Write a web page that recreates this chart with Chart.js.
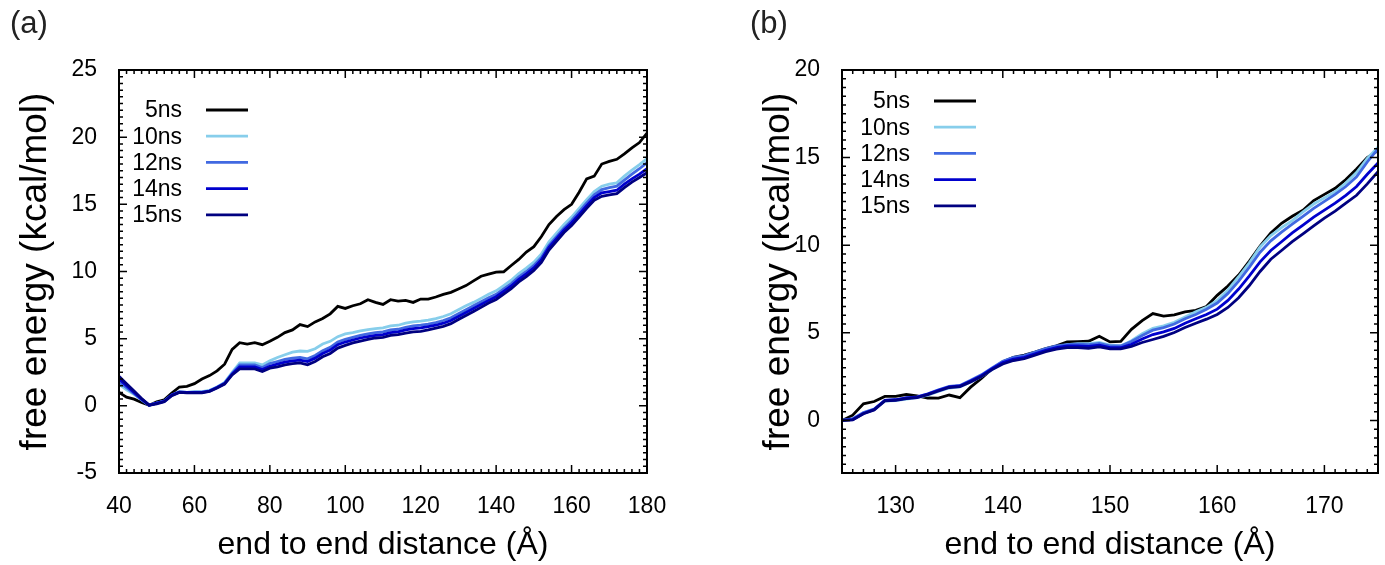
<!DOCTYPE html>
<html>
<head>
<meta charset="utf-8">
<script src="https://cdn.jsdelivr.net/npm/chart.js@4.4.1/dist/chart.umd.min.js"></script>
<style>
  body { margin: 0; background: #fff; width: 1385px; height: 565px; overflow: hidden; position: relative; font-family: "Liberation Sans", Arial, sans-serif; }
  .painel { position: absolute; top: 0; height: 565px; }
  .letra { position: absolute; top: 5px; font-size: 31px; color: #222; }
</style>
</head>
<body>
<div class="painel" style="left:0;width:692px"><canvas id="graficoA"></canvas></div>
<div class="painel" style="left:692px;width:693px"><canvas id="graficoB"></canvas></div>
<div class="letra" style="left:10px">(a)</div>
<div class="letra" style="left:750px">(b)</div>
<script>
// series names and colours
const legendas = ['5ns', '10ns', '12ns', '14ns', '15ns']
const cores = ['#000000', '#87ceeb', '#4169e1', '#0000cd', '#000080']

// panel (a)
const xA = [40, 42, 44, 46, 48, 50, 52, 54, 56, 58, 60, 62, 64, 66, 68, 70, 72, 74, 76, 78,
    80, 82, 84, 86, 88, 90, 92, 94, 96, 98, 100, 102, 104, 106, 108, 110, 112, 114, 116, 118,
    120, 122, 124, 126, 128, 130, 132, 134, 136, 138, 140, 142, 144, 146, 148, 150, 152, 154, 156, 158,
    160, 162, 164, 166, 168, 170, 172, 174, 176, 178, 180]
const a5ns = [1.0, 0.65, 0.5, 0.25, 0.05, 0.3, 0.45, 0.95, 1.4, 1.45,
    1.65, 2.0, 2.25, 2.6, 3.1, 4.2, 4.7, 4.6, 4.7, 4.55,
    4.8, 5.1, 5.45, 5.65, 6.05, 5.9, 6.25, 6.5, 6.85, 7.4,
    7.25, 7.45, 7.6, 7.9, 7.7, 7.55, 7.9, 7.8, 7.85, 7.7,
    7.95, 7.95, 8.1, 8.3, 8.45, 8.7, 8.95, 9.3, 9.65, 9.8,
    9.95, 9.98, 10.45, 10.9, 11.45, 11.85, 12.6, 13.5, 14.1, 14.6,
    15.0, 15.9, 16.9, 17.1, 18.0, 18.2, 18.35, 18.75, 19.2, 19.6,
    20.3]
const a10ns = [1.6, 1.2, 0.85, 0.45, 0.05, 0.2, 0.35, 0.8, 1.05, 1.0,
    1.05, 1.05, 1.15, 1.4, 1.75, 2.5, 3.2, 3.2, 3.2, 3.05,
    3.35, 3.6, 3.8, 4.0, 4.08, 4.05, 4.25, 4.6, 4.8, 5.15,
    5.35, 5.45, 5.58, 5.68, 5.74, 5.8, 5.95, 6.0, 6.15, 6.25,
    6.3, 6.38, 6.5, 6.65, 6.85, 7.15, 7.45, 7.7, 8.0, 8.3,
    8.56, 8.95, 9.35, 9.85, 10.25, 10.7, 11.3, 12.2, 12.85, 13.5,
    14.05, 14.7, 15.35, 15.95, 16.35, 16.5, 16.6, 17.1, 17.55, 17.95,
    18.4]
const a12ns = [1.8, 1.35, 0.9, 0.45, 0.05, 0.2, 0.35, 0.8, 1.03, 1.0,
    1.02, 1.02, 1.12, 1.38, 1.7, 2.42, 3.05, 3.05, 3.05, 2.85,
    3.15, 3.3, 3.45, 3.55, 3.6, 3.5, 3.75, 4.1, 4.35, 4.75,
    4.95, 5.1, 5.25, 5.35, 5.45, 5.5, 5.65, 5.7, 5.85, 5.95,
    6.0, 6.08, 6.2, 6.35, 6.55, 6.85, 7.15, 7.45, 7.75, 8.05,
    8.3, 8.7, 9.1, 9.6, 10.0, 10.45, 11.05, 11.95, 12.6, 13.25,
    13.8, 14.45, 15.1, 15.7, 16.1, 16.25, 16.35, 16.8, 17.25, 17.65,
    18.1]
const a14ns = [2.0, 1.5, 1.0, 0.5, 0.05, 0.2, 0.33, 0.8, 1.02, 1.0,
    1.0, 1.0, 1.1, 1.36, 1.66, 2.36, 2.9, 2.9, 2.9, 2.7,
    2.95, 3.1, 3.25, 3.35, 3.4, 3.3, 3.55, 3.9, 4.15, 4.55,
    4.75, 4.9, 5.05, 5.15, 5.25, 5.3, 5.45, 5.5, 5.65, 5.75,
    5.8, 5.9, 6.0, 6.15, 6.35, 6.65, 6.95, 7.25, 7.55, 7.85,
    8.12, 8.52, 8.92, 9.42, 9.82, 10.27, 10.88, 11.8, 12.45, 13.1,
    13.63, 14.25, 14.9, 15.5, 15.85, 15.95, 16.05, 16.5, 16.9, 17.25,
    17.65]
const a15ns = [2.2, 1.65, 1.1, 0.55, 0.05, 0.15, 0.3, 0.75, 1.0, 0.97,
    0.97, 0.97, 1.07, 1.32, 1.62, 2.3, 2.75, 2.75, 2.75, 2.55,
    2.8, 2.9, 3.05, 3.15, 3.2, 3.05, 3.3, 3.65, 3.9, 4.3,
    4.5, 4.68, 4.82, 4.95, 5.05, 5.1, 5.25, 5.3, 5.42, 5.5,
    5.55, 5.65, 5.78, 5.92, 6.12, 6.42, 6.72, 7.02, 7.33, 7.65,
    7.92, 8.32, 8.72, 9.22, 9.62, 10.07, 10.68, 11.6, 12.25, 12.9,
    13.42, 14.05, 14.7, 15.3, 15.6, 15.7, 15.8, 16.25, 16.65, 17.0,
    17.35]
const xTicksA = [40, 60, 80, 100, 120, 140, 160, 180]
const yTicksA = [-5, 0, 5, 10, 15, 20, 25]

// panel (b)
const xB = [125, 126, 127, 128, 129, 130, 131, 132, 133, 134, 135, 136, 137, 138, 139, 140, 141, 142, 143, 144,
    145, 146, 147, 148, 149, 150, 151, 152, 153, 154, 155, 156, 157, 158, 159, 160, 161, 162, 163, 164,
    165, 166, 167, 168, 169, 170, 171, 172, 173, 174, 175]
const b5ns = [0.0, 0.3, 0.95, 1.08, 1.37, 1.37, 1.48, 1.4, 1.28, 1.27,
    1.45, 1.3, 1.9, 2.4, 2.95, 3.35, 3.6, 3.73, 3.9, 4.1,
    4.26, 4.48, 4.5, 4.52, 4.8, 4.48, 4.51, 5.2, 5.7, 6.1,
    5.95, 6.03, 6.2, 6.28, 6.5, 7.14, 7.67, 8.3, 9.1, 9.95,
    10.7, 11.25, 11.65, 12.0, 12.55, 12.9, 13.25, 13.75, 14.35, 15.0,
    15.4]
const b10ns = [0.0, 0.08, 0.42, 0.65, 1.1, 1.13, 1.22, 1.3, 1.45, 1.65,
    1.85, 1.92, 2.2, 2.5, 2.9, 3.3, 3.53, 3.65, 3.85, 4.03,
    4.2, 4.32, 4.38, 4.38, 4.45, 4.3, 4.25, 4.55, 4.95, 5.25,
    5.4, 5.6, 5.9, 6.2, 6.45, 6.85, 7.45, 8.2, 9.0, 9.9,
    10.55, 11.0, 11.4, 11.9, 12.35, 12.7, 13.05, 13.55, 14.15, 14.95,
    15.6]
const b12ns = [0.0, 0.1, 0.45, 0.65, 1.15, 1.18, 1.28, 1.35, 1.52, 1.75,
    1.95, 2.0, 2.3, 2.6, 3.0, 3.38, 3.6, 3.7, 3.9, 4.1,
    4.25, 4.33, 4.35, 4.33, 4.4, 4.25, 4.25, 4.5, 4.85, 5.15,
    5.3, 5.5, 5.8, 6.05, 6.35, 6.7, 7.25, 7.95, 8.75, 9.6,
    10.25, 10.75, 11.2, 11.65, 12.1, 12.5, 12.9, 13.35, 13.9, 14.75,
    15.5]
const b14ns = [0.0, 0.05, 0.4, 0.62, 1.15, 1.18, 1.28, 1.33, 1.5, 1.72,
    1.92, 1.97, 2.25, 2.55, 2.95, 3.3, 3.5, 3.6, 3.8, 4.0,
    4.15, 4.25, 4.25, 4.22, 4.3, 4.15, 4.15, 4.35, 4.65, 4.9,
    5.05, 5.25, 5.55, 5.8, 6.05, 6.35, 6.85, 7.5, 8.25, 9.05,
    9.7, 10.2, 10.7, 11.15, 11.6, 12.0, 12.4, 12.85, 13.35, 14.05,
    14.7]
const b15ns = [0.0, 0.03, 0.38, 0.6, 1.12, 1.15, 1.25, 1.3, 1.47, 1.68,
    1.88, 1.93, 2.2, 2.5, 2.9, 3.22, 3.42, 3.52, 3.72, 3.92,
    4.07, 4.15, 4.15, 4.12, 4.2, 4.08, 4.08, 4.22, 4.45, 4.62,
    4.8, 5.02, 5.3, 5.55, 5.78, 6.05, 6.45, 7.0, 7.7, 8.5,
    9.2, 9.7, 10.2, 10.65, 11.1, 11.55, 11.95, 12.4, 12.85, 13.5,
    14.2]
const xTicksB = [130, 140, 150, 160, 170]
const yTicksB = [0, 5, 10, 15, 20]

Chart.defaults.font.family = '"Liberation Sans", Arial, sans-serif'
Chart.defaults.color = '#000'

// frame, inward ticks (mirrored) and the legend
const moldura = {
    id: 'moldura',
    afterDatasetsDraw(chart, args, opts) {
        const ctx = chart.ctx
        const area = chart.chartArea
        const sx = chart.scales.x
        const sy = chart.scales.y
        ctx.save()
        ctx.strokeStyle = '#000'
        ctx.lineWidth = 1.5
        ctx.beginPath()
        for (let v = sx.min; v <= sx.max; v += opts.xMinor) {
            const px = sx.getPixelForValue(v)
            const len = opts.xMajor.includes(v) ? 8 : 4
            ctx.moveTo(px, area.bottom)
            ctx.lineTo(px, area.bottom - len)
            ctx.moveTo(px, area.top)
            ctx.lineTo(px, area.top + len)
        }
        for (let v = sy.min; v <= sy.max; v += opts.yMinor) {
            const py = sy.getPixelForValue(v)
            const len = opts.yMajor.includes(v) ? 8 : 4
            ctx.moveTo(area.left, py)
            ctx.lineTo(area.left + len, py)
            ctx.moveTo(area.right, py)
            ctx.lineTo(area.right - len, py)
        }
        ctx.stroke()
        ctx.lineWidth = 2
        ctx.strokeRect(area.left, area.top, area.right - area.left, area.bottom - area.top)

        // legend
        ctx.font = '23px "Liberation Sans", Arial, sans-serif'
        ctx.textAlign = 'right'
        ctx.textBaseline = 'middle'
        chart.data.datasets.forEach((ds, i) => {
            const y = area.top + opts.legTop + i * opts.legStep
            ctx.fillStyle = '#000'
            ctx.fillText(ds.label, area.left + opts.legText, y + 1)
            ctx.strokeStyle = ds.borderColor
            ctx.lineWidth = 2.8
            ctx.beginPath()
            ctx.moveTo(area.left + opts.legLine1, y)
            ctx.lineTo(area.left + opts.legLine2, y)
            ctx.stroke()
        })
        ctx.restore()
    }
}

function montarGrafico(idCanvas, xs, series, cfg) {
    const datasets = series.map((s, i) => ({
        label: legendas[i],
        data: xs.map((x, j) => ({ x: x, y: s[j] })),
        borderColor: cores[i],
        borderWidth: 2.8,
        pointRadius: 0,
        fill: false,
        tension: 0,
        order: series.length - 1 - i
    }))

    return new Chart(document.getElementById(idCanvas), {
        type: 'line',
        data: { datasets: datasets },
        plugins: [moldura],
        options: {
            responsive: true,
            maintainAspectRatio: false,
            animation: false,
            layout: { padding: { left: 0, top: 70, right: cfg.padRight, bottom: 0 } },
            plugins: {
                legend: { display: false },
                tooltip: { enabled: false },
                moldura: {
                    xMajor: cfg.xTicks, yMajor: cfg.yTicks,
                    xMinor: cfg.xMinor, yMinor: 0.5,
                    legTop: cfg.legTop, legStep: 26.2,
                    legText: cfg.legText, legLine1: cfg.legText + 24, legLine2: cfg.legText + 66
                }
            },
            scales: {
                x: {
                    type: 'linear',
                    min: cfg.xMin,
                    max: cfg.xMax,
                    grid: { display: false, drawTicks: false },
                    border: { display: false },
                    ticks: { font: { size: 23 }, padding: 20, maxRotation: 0, autoSkip: false },
                    afterBuildTicks: function(scale) { scale.ticks = cfg.xTicks.map(v => ({ value: v })) },
                    afterFit: function(scale) { scale.height = 92 },
                    title: { display: true, text: 'end to end distance (Å)', font: { size: 32 }, padding: { top: 0, bottom: 1 } }
                },
                y: {
                    min: cfg.yMin,
                    max: cfg.yMax,
                    grid: { display: false, drawTicks: false },
                    border: { display: false },
                    ticks: { font: { size: 23 }, padding: 22, autoSkip: false },
                    afterBuildTicks: function(scale) { scale.ticks = cfg.yTicks.map(v => ({ value: v })) },
                    afterFit: function(scale) { scale.width = cfg.yWidth },
                    title: { display: true, text: 'free energy (kcal/mol)', font: { size: 37 }, padding: { top: cfg.yTitlePad, bottom: 0 } }
                }
            }
        }
    })
}

montarGrafico('graficoA', xA, [a5ns, a10ns, a12ns, a14ns, a15ns], {
    xMin: 40, xMax: 180, yMin: -5, yMax: 25,
    xTicks: xTicksA, yTicks: yTicksA, xMinor: 2,
    padRight: 45, yWidth: 119, yTitlePad: 14,
    legTop: 40, legText: 63
})

montarGrafico('graficoB', xB, [b5ns, b10ns, b12ns, b14ns, b15ns], {
    xMin: 125, xMax: 175, yMin: -3, yMax: 20,
    xTicks: xTicksB, yTicks: yTicksB, xMinor: 1,
    padRight: 7, yWidth: 150, yTitlePad: 65,
    legTop: 31, legText: 68
})
</script>
</body>
</html>
